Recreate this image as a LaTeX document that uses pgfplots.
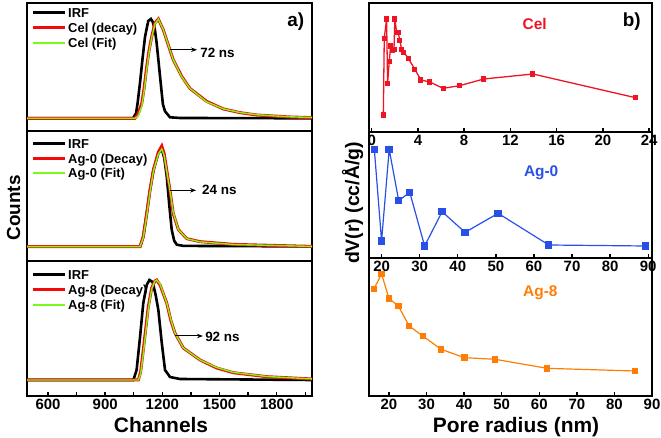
\documentclass[border=0pt]{standalone}
\usepackage{fontspec}
\setmainfont{Liberation Sans}
\usepackage{pgfplots}
\pgfplotsset{compat=1.18}
\usetikzlibrary{arrows.meta}
\definecolor{decayred}{RGB}{245,10,10}
\definecolor{fitgreen}{RGB}{120,250,20}
\definecolor{celred}{RGB}{238,20,35}
\definecolor{agblue}{RGB}{40,80,230}
\definecolor{agorange}{RGB}{255,125,5}
\tikzset{
  irf/.style={black, line width=2.6bp, mark=none},
  decay/.style={decayred, line width=3bp, mark=none},
  fit/.style={fitgreen, line width=1.4bp, mark=none},
}
\pgfplotsset{
  panel/.style={scale only axis, anchor=south west,
    axis line style={line width=1.6bp},
    ytick=\empty, tick align=inside, xtick pos=left,
    major tick length=4bp, minor tick length=4bp,
    every tick/.style={line width=1.4bp, black},
    tick label style={font=\bfseries\fontsize{15}{15}\selectfont},
    /pgf/number format/assume math mode=true,
    /pgf/number format/1000 sep={},
    clip mode=individual},
  leftpanel/.style={panel, width=285bp, xmin=490, xmax=1985},
  rightpanel/.style={panel, width=283bp},
}
\newcommand{\nsfont}{\bfseries\fontsize{13.5}{13.5}\selectfont}
\newcommand{\tagfont}{\bfseries\fontsize{15.5}{15.5}\selectfont}
\newcommand{\legfont}{\bfseries\fontsize{13}{13}\selectfont}
% legend block: rows at tikz y #1,#2,#3 (bp); #4 = Decay/decay; #5 = sample name
\newcommand{\leg}[5]{%
  \draw[irf] (33bp,#1bp) -- (65bp,#1bp);
  \node[anchor=base west, inner sep=0pt, font=\legfont] at (68bp,#1bp-4.6bp) {IRF};
  \draw[decay] (33bp,#2bp) -- (65bp,#2bp);
  \node[anchor=base west, inner sep=0pt, font=\legfont] at (68bp,#2bp-4.6bp) {#5 (#4)};
  \draw[fit] (33bp,#3bp) -- (65bp,#3bp);
  \node[anchor=base west, inner sep=0pt, font=\legfont] at (68bp,#3bp-4.6bp) {#5 (Fit)};
}

\pgfplotstableread{
ch decay fit
490 0.000 0.000
1056 0.000 0.000
1072 0.040 0.020
1092 0.150 0.120
1104 0.300 0.270
1118 0.520 0.490
1130 0.680 0.660
1144 0.820 0.810
1161 0.960 0.950
1179 1.000 1.000
1205 0.890 0.890
1231 0.740 0.740
1257 0.590 0.590
1302 0.420 0.415
1345 0.300 0.300
1433 0.170 0.165
1520 0.094 0.095
1607 0.057 0.058
1695 0.033 0.036
1782 0.023 0.024
1870 0.013 0.015
1985 0.006 0.008
}\celdecay
\pgfplotstableread{
ch irf
490 0
1046 0
1062 0.05
1070 0.15
1083 0.36
1096 0.60
1109 0.82
1126 0.98
1140 1.00
1150 0.97
1161 0.89
1170 0.76
1179 0.59
1188 0.42
1197 0.25
1203 0.14
1214 0.07
1240 0.01
1293 0.003
1985 0.0
}\celirf
\pgfplotstableread{
ch decay fit
490 0 0
1083 0 0
1100 0.10 0.09
1118 0.33 0.31
1135 0.56 0.54
1153 0.76 0.75
1179 0.94 0.92
1197 1.00 0.97
1210 0.92 0.90
1223 0.76 0.75
1240 0.56 0.56
1257 0.33 0.34
1284 0.17 0.17
1328 0.08 0.08
1398 0.05 0.048
1572 0.023 0.022
1835 0.010 0.010
1985 0.003 0.003
}\agzdecay
\pgfplotstableread{
ch irf
490 0
1083 0
1100 0.10
1118 0.33
1135 0.56
1153 0.76
1179 0.93
1197 0.97
1210 0.88
1223 0.70
1236 0.42
1249 0.17
1262 0.06
1276 0.02
1310 0.008
1985 0.003
}\agzirf
\pgfplotstableread{
ch decay fit
490 0 0
1074 0 0
1086 0.08 0.06
1100 0.30 0.26
1126 0.73 0.70
1144 0.92 0.91
1161 0.99 0.99
1170 1.00 1.00
1188 0.95 0.96
1223 0.77 0.77
1244 0.60 0.61
1266 0.47 0.47
1310 0.32 0.32
1398 0.20 0.20
1485 0.12 0.125
1572 0.073 0.076
1748 0.033 0.035
1985 0.010 0.011
}\agedecay
\pgfplotstableread{
ch irf
490 0
1048 0
1065 0.10
1083 0.43
1100 0.77
1118 0.95
1132 1.00
1149 0.98
1165 0.85
1179 0.70
1197 0.37
1214 0.10
1240 0.03
1293 0.01
1985 0
}\ageirf

\begin{document}
\begin{tikzpicture}
\useasboundingbox (0,0) rectangle (661bp,438bp);

% ---------- left column ----------
\begin{axis}[leftpanel, at={(27bp,307bp)}, height=128bp,
  ymin=-0.128, ymax=1.161, xtick=\empty]
\addplot[irf] table[x=ch,y=irf] {\celirf};
\addplot[decay] table[x=ch,y=decay] {\celdecay};
\addplot[fit] table[x=ch,y=fit] {\celdecay};
\draw[-{Stealth[length=6bp,width=4.5bp]}, line width=1bp] (axis cs:1240,0.69) -- (axis cs:1382,0.69);
\node[anchor=west, inner sep=0pt, font=\nsfont] at (axis cs:1398,0.66) {72 ns};
\node[font=\bfseries\fontsize{19}{19}\selectfont] at (axis cs:1900,0.97) {a)};
\end{axis}

\begin{axis}[leftpanel, at={(27bp,177bp)}, height=130bp,
  ymin=-0.142, ymax=1.149, xtick=\empty]
\addplot[irf] table[x=ch,y=irf] {\agzirf};
\addplot[decay] table[x=ch,y=decay] {\agzdecay};
\addplot[fit] table[x=ch,y=fit] {\agzdecay};
\draw[-{Stealth[length=6bp,width=4.5bp]}, line width=1bp] (axis cs:1240,0.56) -- (axis cs:1377,0.56);
\node[anchor=west, inner sep=0pt, font=\nsfont] at (axis cs:1408,0.56) {24 ns};
\end{axis}

\begin{axis}[leftpanel, at={(27bp,42bp)}, height=135bp,
  ymin=-0.16, ymax=1.19,
  xtick={600,900,1200,1500,1800}, minor xtick={750,1050,1350,1650,1950}]
\addplot[irf] table[x=ch,y=irf] {\ageirf};
\addplot[decay] table[x=ch,y=decay] {\agedecay};
\addplot[fit] table[x=ch,y=fit] {\agedecay};
\draw[-{Stealth[length=6bp,width=4.5bp]}, line width=1bp] (axis cs:1266,0.44) -- (axis cs:1413,0.44);
\node[anchor=west, inner sep=0pt, font=\nsfont] at (axis cs:1424,0.43) {92 ns};
\end{axis}

% legends (left column)
\leg{425.5}{410.5}{395}{decay}{Cel}
\leg{294.5}{279.5}{265}{Decay}{Ag-0}
\leg{163.5}{148.5}{133}{Decay}{Ag-8}

% ---------- right column ----------
\begin{axis}[rightpanel, at={(369bp,306bp)}, height=129bp,
  xmin=-0.23, xmax=24.25, ymin=0.04, ymax=3.91, xtick={0,4,...,24}]
\addplot[celred, line width=1.3bp, mark=square*, mark size=1.9bp] coordinates {
(1.01,0.55) (1.09,2.85) (1.29,3.43) (1.38,1.50) (1.52,2.15) (1.64,2.62)
(1.81,2.48) (1.93,2.52) (2.01,3.43) (2.16,3.02) (2.30,3.02) (2.44,2.78)
(2.59,2.52) (2.79,2.43) (3.16,2.25) (3.74,1.92) (4.26,1.60) (5.03,1.54)
(6.18,1.35) (7.62,1.43) (9.69,1.63) (13.95,1.78) (22.81,1.07)};
\node[text=celred, font=\tagfont] at (axis cs:14.1,3.28) {Cel};
\node[font=\bfseries\fontsize{19}{19}\selectfont] at (axis cs:22.5,3.34) {b)};
\end{axis}

\begin{axis}[rightpanel, at={(369bp,180bp)}, height=126bp,
  xmin=16.7, xmax=91, ymin=0, ymax=3.78, xtick={20,30,...,90}]
\addplot[agblue, line width=1.2bp, mark=square*, mark size=3.1bp] coordinates {
(18.1,3.26) (20.0,0.51) (22.0,3.26) (24.5,1.72) (27.4,1.97) (31.3,0.36)
(35.9,1.39) (41.9,0.77) (50.6,1.34) (63.9,0.39) (89.3,0.36)};
\node[text=agblue, font=\tagfont] at (axis cs:61.9,2.55) {Ag-0};
\end{axis}

\begin{axis}[rightpanel, at={(369bp,42bp)}, height=138bp,
  xmin=14.7, xmax=90, ymin=0, ymax=4.14, xtick={20,30,...,90}]
\addplot[agorange, line width=1.2bp, mark=square*, mark size=2.6bp] coordinates {
(16.0,3.21) (18.05,3.66) (20.0,2.93) (22.5,2.70) (25.4,2.10) (29.0,1.80)
(33.9,1.40) (40.1,1.15) (48.3,1.10) (62.1,0.83) (85.5,0.75)};
\node[text=agorange, font=\tagfont] at (axis cs:60.3,3.09) {Ag-8};
\end{axis}

% ---------- axis titles ----------
\node[anchor=base, font=\bfseries\fontsize{21}{21}\selectfont] at (161bp,6bp) {Channels};
\node[anchor=base, font=\bfseries\fontsize{21}{21}\selectfont] at (516bp,6bp) {Pore radius (nm)};
\node[anchor=base, rotate=90, font=\bfseries\fontsize{19}{19}\selectfont] at (20bp,230bp) {Counts};
\node[anchor=base, rotate=90, font=\bfseries\fontsize{19.5}{19.5}\selectfont] at (359bp,235bp) {dV(r) (cc/Å/g)};
\end{tikzpicture}
\end{document}
